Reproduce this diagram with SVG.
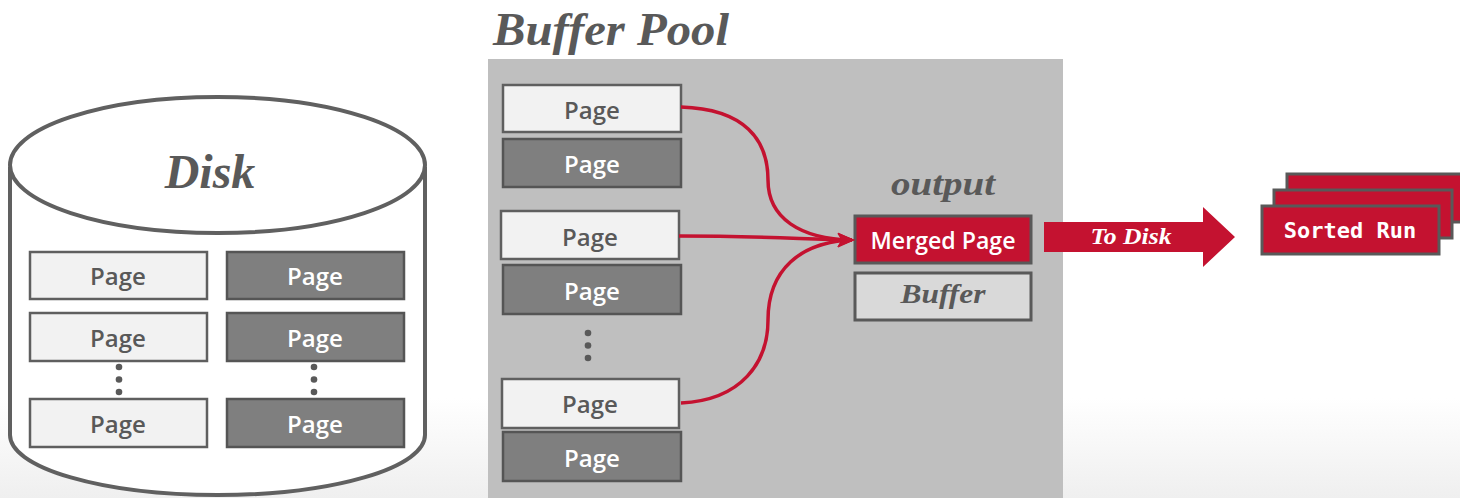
<svg xmlns="http://www.w3.org/2000/svg" width="1460" height="498" viewBox="0 0 1460 498">
<defs>
<linearGradient id="bg" x1="0" y1="0" x2="0" y2="1">
<stop offset="0" stop-color="#ffffff"/>
<stop offset="0.8" stop-color="#ffffff"/>
<stop offset="1" stop-color="#efefef"/>
</linearGradient>
<marker id="arr" viewBox="0 0 12 10" refX="10" refY="5" markerWidth="5" markerHeight="4.5" orient="auto" markerUnits="strokeWidth">
<path d="M0,0 L12,5 L0,10 L3,5 z" fill="#c41230"/>
</marker>
<style>
.lp{fill:#f2f2f2;stroke:#5f5f5f;stroke-width:2.5}
.dp{fill:#7f7f7f;stroke:#555555;stroke-width:2.5}
.pt{font-family:"Open Sans","Noto Sans",sans-serif;font-weight:600;font-size:24px;text-anchor:middle}
.lt{fill:#595959}
.dt{fill:#ffffff}
.ser{font-family:"Liberation Serif","DejaVu Serif",serif;font-style:italic;font-weight:bold;fill:#595959}
.red{fill:#c41230;stroke:#595959;stroke-width:3}
.sr{font-family:"DejaVu Sans Mono","Liberation Mono",monospace;font-weight:bold;font-size:22px;fill:#ffffff;text-anchor:middle}
.conn{fill:none;stroke:#c41230;stroke-width:3.5}
.dot{fill:#595959}
</style>
</defs>
<rect x="0" y="0" width="1460" height="498" fill="url(#bg)"/>

<g id="disk">
<path d="M10,167 L10,435 A207.5,60 0 0 0 425,435 L425,167" fill="#ffffff" stroke="#606060" stroke-width="4"/>
<ellipse cx="217.5" cy="165" rx="207.5" ry="68" fill="#ffffff" stroke="#606060" stroke-width="4"/>
<text x="210" y="188" class="ser" font-size="48" text-anchor="middle">Disk</text>
</g>
<g id="disk-page-1"><rect x="30" y="252" width="177" height="47" class="lp"/><text x="118" y="285" class="pt lt">Page</text></g>
<g id="disk-page-2"><rect x="30" y="313" width="177" height="48" class="lp"/><text x="118" y="347" class="pt lt">Page</text></g>
<g id="disk-page-3"><rect x="30" y="399" width="177" height="48" class="lp"/><text x="118" y="433" class="pt lt">Page</text></g>
<g id="disk-page-4"><rect x="227" y="252" width="177" height="47" class="dp"/><text x="315" y="285" class="pt dt">Page</text></g>
<g id="disk-page-5"><rect x="227" y="313" width="177" height="48" class="dp"/><text x="315" y="347" class="pt dt">Page</text></g>
<g id="disk-page-6"><rect x="227" y="399" width="177" height="48" class="dp"/><text x="315" y="433" class="pt dt">Page</text></g>
<g id="disk-dots">
<circle cx="119" cy="367" r="3.3" class="dot"/><circle cx="119" cy="379.5" r="3.3" class="dot"/><circle cx="119" cy="392" r="3.3" class="dot"/>
<circle cx="314" cy="367" r="3.3" class="dot"/><circle cx="314" cy="379.5" r="3.3" class="dot"/><circle cx="314" cy="392" r="3.3" class="dot"/>
</g>

<g id="buffer-pool">
<rect x="488" y="59" width="575" height="439" fill="#bfbfbf"/>
<text x="493" y="45" class="ser" font-size="46" textLength="236" lengthAdjust="spacingAndGlyphs">Buffer Pool</text>
</g>
<g id="bp-page-1"><rect x="503" y="85" width="178" height="47" class="lp"/><text x="592" y="119" class="pt lt">Page</text></g>
<g id="bp-page-2"><rect x="503" y="139" width="178" height="48" class="dp"/><text x="592" y="173" class="pt dt">Page</text></g>
<g id="bp-page-3"><rect x="501" y="211" width="178" height="48" class="lp"/><text x="590" y="246" class="pt lt">Page</text></g>
<g id="bp-page-4"><rect x="503" y="265" width="178" height="49" class="dp"/><text x="592" y="300" class="pt dt">Page</text></g>
<g id="bp-dots"><circle cx="588" cy="333" r="3.3" class="dot"/><circle cx="588" cy="345.5" r="3.3" class="dot"/><circle cx="588" cy="358" r="3.3" class="dot"/></g>
<g id="bp-page-5"><rect x="502" y="379" width="177" height="49" class="lp"/><text x="590" y="413" class="pt lt">Page</text></g>
<g id="bp-page-6"><rect x="503" y="432" width="178" height="49" class="dp"/><text x="592" y="467" class="pt dt">Page</text></g>

<g id="output">
<text x="943" y="195" class="ser" font-size="34" text-anchor="middle" textLength="104" lengthAdjust="spacingAndGlyphs">output</text>
</g>
<g id="merged-page">
<rect x="855" y="216" width="176" height="47" class="red"/>
<text x="943" y="249" class="pt dt" textLength="145" lengthAdjust="spacingAndGlyphs">Merged Page</text>
</g>
<g id="buffer">
<rect x="855" y="273" width="176" height="47" fill="#d9d9d9" stroke="#595959" stroke-width="3"/>
<text x="943" y="303" class="ser" font-size="28" text-anchor="middle" textLength="85" lengthAdjust="spacingAndGlyphs">Buffer</text>
</g>

<g id="to-disk">
<path d="M1044,222 L1203,222 L1203,207 L1235,237 L1203,267 L1203,252 L1044,252 z" fill="#c41230"/>
<text x="1131" y="244" font-family="Liberation Serif, DejaVu Serif, serif" font-style="italic" font-weight="bold" font-size="24" fill="#ffffff" text-anchor="middle" textLength="81" lengthAdjust="spacingAndGlyphs">To Disk</text>
</g>

<g id="sorted-runs">
<g id="sorted-run-3"><rect x="1287" y="174" width="180" height="48" class="red"/><text x="1376" y="206" class="sr">Sorted Run</text></g>
<g id="sorted-run-2"><rect x="1274" y="190" width="178" height="48" class="red"/><text x="1363" y="222" class="sr">Sorted Run</text></g>
<g id="sorted-run-1"><rect x="1262" y="206" width="177" height="48" class="red"/><text x="1350" y="238" class="sr">Sorted Run</text></g>
</g>

<g id="connectors">
<path class="conn" d="M681,107 C745,109 768,140 768,180 C768,218 800,239 852,240" marker-end="url(#arr)"/>
<path class="conn" d="M679,236 C760,236 800,239 852,240" marker-end="url(#arr)"/>
<path class="conn" d="M681,403 C742,400 768,362 768,320 C768,270 800,242 852,240" marker-end="url(#arr)"/>
</g>
</svg>
